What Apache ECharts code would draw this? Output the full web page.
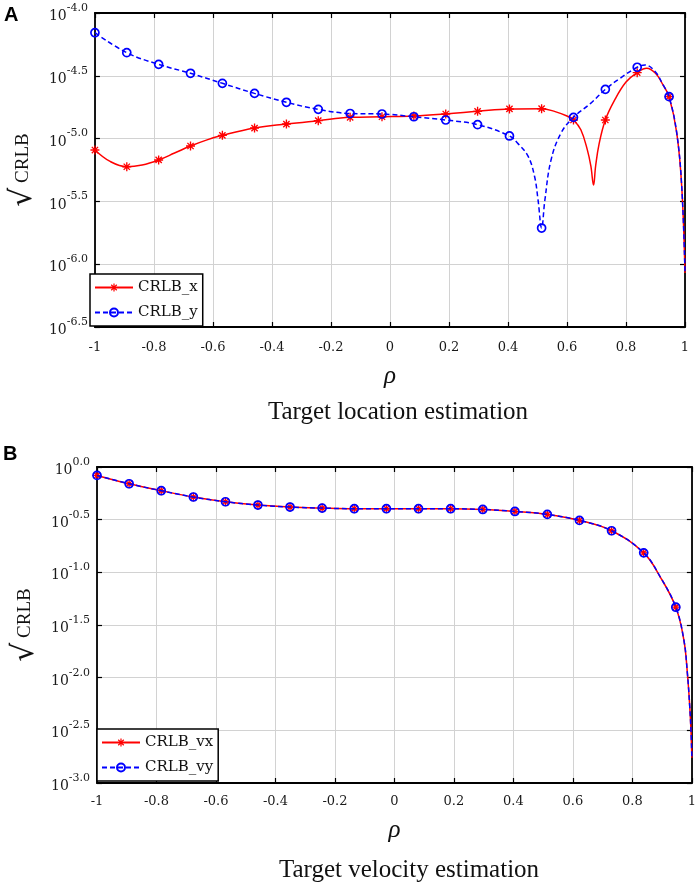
<!DOCTYPE html>
<html>
<head>
<meta charset="utf-8">
<script src="https://cdn.jsdelivr.net/npm/echarts@6/dist/echarts.min.js"></script>
<style>
html,body{margin:0;padding:0;background:#fff;}
#c{width:699px;height:890px;}
</style>
</head>
<body>
<div id="c"></div>
<script>
// ---------- data (log10 of sqrt(CRLB)) ----------
const markRho = [-1, -0.892, -0.784, -0.676, -0.568, -0.459, -0.351, -0.243, -0.135, -0.027,
  0.081, 0.189, 0.297, 0.405, 0.514, 0.622, 0.730, 0.838, 0.946];

const rhoLocX = [-1, -0.95, -0.892, -0.84, -0.784, -0.73, -0.676, -0.62, -0.568, -0.459, -0.351, -0.243,
  -0.135, -0.027, 0.081, 0.189, 0.297, 0.405, 0.514, 0.56, 0.60, 0.622, 0.647, 0.669, 0.681, 0.690,
  0.697, 0.709, 0.730, 0.76, 0.80, 0.838, 0.87, 0.90, 0.925, 0.946, 0.972, 0.989, 1.0];
const crlbX = [-5.091, -5.18, -5.224, -5.21, -5.17, -5.115, -5.059, -5.01, -4.974, -4.916, -4.884, -4.857,
  -4.831, -4.826, -4.82, -4.804, -4.783, -4.764, -4.762, -4.785, -4.82, -4.852, -4.93, -5.09, -5.22, -5.37,
  -5.22, -5.04, -4.852, -4.70, -4.55, -4.475, -4.44, -4.48, -4.57, -4.666, -4.955, -5.385, -6.07];

const rhoLocY = [-1, -0.892, -0.784, -0.676, -0.568, -0.459, -0.351, -0.243, -0.135, -0.027, 0.081, 0.189,
  0.297, 0.405, 0.434, 0.468, 0.49, 0.502, 0.514, 0.525, 0.546, 0.58, 0.622, 0.68, 0.730, 0.78, 0.838,
  0.865, 0.90, 0.925, 0.946, 0.972, 0.989, 1.0];
const crlbY = [-4.157, -4.316, -4.409, -4.48, -4.56, -4.64, -4.711, -4.767, -4.80, -4.804, -4.826, -4.852,
  -4.889, -4.979, -5.04, -5.14, -5.30, -5.49, -5.712, -5.49, -5.17, -4.955, -4.831, -4.72, -4.608, -4.52, -4.432,
  -4.414, -4.47, -4.57, -4.666, -4.955, -5.385, -6.07];

const rhoVel = [-1, -0.892, -0.784, -0.676, -0.568, -0.459, -0.351, -0.243, -0.135, -0.027, 0.081, 0.189,
  0.297, 0.405, 0.514, 0.622, 0.730, 0.838, 0.893, 0.946, 0.973, 0.985, 0.993, 0.997, 1.0];
const crlbVx = [-0.080, -0.159, -0.225, -0.285, -0.33, -0.361, -0.38, -0.39, -0.396, -0.396, -0.396, -0.396,
  -0.403, -0.422, -0.45, -0.507, -0.605, -0.815, -1.04, -1.331, -1.64, -1.96, -2.28, -2.5, -2.76];
const crlbVy = [-0.080, -0.159, -0.225, -0.285, -0.33, -0.361, -0.38, -0.39, -0.396, -0.396, -0.396, -0.396,
  -0.403, -0.422, -0.45, -0.507, -0.605, -0.815, -1.04, -1.331, -1.64, -1.96, -2.28, -2.5, -2.76];

const xTicks = {min: -1, max: 1, interval: 0.2};
const yTicksA = {min: -6.5, max: -4.0, interval: 0.5};
const yTicksB = {min: -3.0, max: 0.0, interval: 0.5};

// ---------- styling ----------
const SERIF = 'DejaVu Serif';
const ASTER = 'path://M8.5 0L11.5 0L11.5 20L8.5 20Z M0 8.5L20 8.5L20 11.5L0 11.5Z M4.1 2L18 15.9L15.9 18L2 4.1Z M15.9 2L18 4.1L4.1 18L2 15.9Z';
const RED = '#ff0000', BLUE = '#0000ff';

function pts(rho, vals) {
  return rho.map((r, i) => {
    const isMark = markRho.some(m => Math.abs(m - r) < 1e-9);
    return isMark ? {value: [r, vals[i]]} : {value: [r, vals[i]], symbol: 'none'};
  });
}

const axLine = {show: true, onZero: false, lineStyle: {color: '#000', width: 1.8}};
const axTick = {show: true, inside: true, length: 5, lineStyle: {color: '#000', width: 1.2}};
const grid = {show: true, lineStyle: {color: '#d2d2d2', width: 1}};

function xAxes(gi, gap) {
  return [
    Object.assign({gridIndex: gi, type: 'value', position: 'bottom',
      axisLine: axLine, axisTick: axTick, splitLine: grid,
      axisLabel: {margin: gi === 0 ? 14 : 12, fontFamily: SERIF, fontSize: 13, color: '#1a1a1a',
        formatter: v => String(Number(v.toFixed(1)))},
      name: 'ρ', nameLocation: 'middle', nameGap: gap,
      nameTextStyle: {fontFamily: 'Liberation Serif', fontStyle: 'italic', fontSize: 25, color: '#111'}
    }, xTicks),
    Object.assign({gridIndex: gi, type: 'value', position: 'top',
      axisLine: axLine, axisTick: axTick, splitLine: {show: false}, axisLabel: {show: false}
    }, xTicks)
  ];
}
function yAxes(gi, ticks, gap) {
  return [
    Object.assign({gridIndex: gi, type: 'value', position: 'left',
      axisLine: axLine, axisTick: axTick, splitLine: grid,
      axisLabel: {margin: 7, formatter: v => '{b|10}{s|' + v.toFixed(1) + '}',
        rich: {
          b: {fontFamily: SERIF, fontSize: 14, color: '#1a1a1a', lineHeight: 21, verticalAlign: 'bottom'},
          s: {fontFamily: SERIF, fontSize: 11, color: '#1a1a1a', lineHeight: 21, verticalAlign: 'top'}
        }},
      name: '{r|√}{c| CRLB}', nameLocation: 'middle', nameGap: gap, nameRotate: 90,
      nameTextStyle: {rich: {
        r: {fontFamily: 'DejaVu Serif', fontSize: 30, color: '#111'},
        c: {fontFamily: 'Liberation Serif', fontSize: 19, color: '#111'}
      }}
    }, ticks),
    Object.assign({gridIndex: gi, type: 'value', position: 'right',
      axisLine: axLine, axisTick: axTick, splitLine: {show: false}, axisLabel: {show: false}
    }, ticks)
  ];
}

function redSeries(name, xi, yi, rho, vals) {
  return {name, type: 'line', xAxisIndex: xi, yAxisIndex: yi, data: pts(rho, vals),
    smooth: 0.4, showAllSymbol: true, symbol: ASTER, symbolSize: 9,
    lineStyle: {color: RED, width: 1.5, type: 'solid'},
    itemStyle: {color: RED, borderWidth: 0}, z: 3, animation: false};
}
function blueSeries(name, xi, yi, rho, vals) {
  return {name, type: 'line', xAxisIndex: xi, yAxisIndex: yi, data: pts(rho, vals),
    smooth: 0.4, showAllSymbol: true, symbol: 'circle', symbolSize: 8,
    lineStyle: {color: BLUE, width: 1.5, type: [5, 3]},
    itemStyle: {color: 'rgba(255,255,255,0)', borderColor: BLUE, borderWidth: 1.7}, z: 4, animation: false};
}

function legend(left, top, names) {
  return {left, top, orient: 'vertical', data: names,
    backgroundColor: '#fff', borderColor: '#000', borderWidth: 1.5, borderRadius: 0,
    padding: [6, 5, 6, 4], itemGap: 10, itemWidth: 38, itemHeight: 10,
    textStyle: {fontFamily: SERIF, fontSize: 15, color: '#111'}};
}

const chart = echarts.init(document.getElementById('c'), null, {renderer: 'canvas'});
chart.setOption({
  animation: false,
  backgroundColor: '#fff',
  grid: [
    {left: 90, top: 13, width: 595, height: 314},
    {left: 97, top: 467, width: 596, height: 316}
  ],
  xAxis: [...xAxes(0, 37), ...xAxes(1, 35)],
  yAxis: [...yAxes(0, yTicksA, 52), ...yAxes(1, yTicksB, 57)],
  legend: [legend(90, 274, ['CRLB_x', 'CRLB_y']), legend(97, 729, ['CRLB_vx', 'CRLB_vy'])],
  graphic: [
    {type: 'text', left: 4, top: 5, style: {text: 'A', font: 'bold 20px "Liberation Sans"', fill: '#000'}},
    {type: 'text', left: 3, top: 444, style: {text: 'B', font: 'bold 20px "Liberation Sans"', fill: '#000'}},
    {type: 'text', x: 398, y: 412, style: {text: 'Target location estimation', font: '25px "Liberation Serif"', fill: '#111', textAlign: 'center', textVerticalAlign: 'middle'}},
    {type: 'text', x: 409, y: 870, style: {text: 'Target velocity estimation', font: '25px "Liberation Serif"', fill: '#111', textAlign: 'center', textVerticalAlign: 'middle'}}
  ],
  series: [
    redSeries('CRLB_x', 0, 0, rhoLocX, crlbX),
    blueSeries('CRLB_y', 0, 0, rhoLocY, crlbY),
    redSeries('CRLB_vx', 2, 2, rhoVel, crlbVx),
    blueSeries('CRLB_vy', 2, 2, rhoVel, crlbVy)
  ]
});
</script>
</body>
</html>
